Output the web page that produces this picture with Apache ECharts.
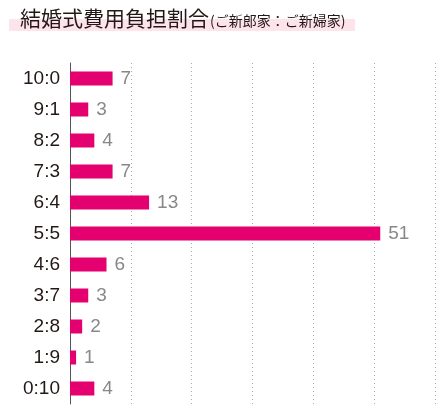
<!DOCTYPE html>
<html><head><meta charset="utf-8">
<script src="https://cdn.jsdelivr.net/npm/echarts@6/dist/echarts.min.js"></script>
<style>html,body{margin:0;padding:0;background:#fff}#c{width:447px;height:411px}</style>
</head><body><div id="c"></div>
<script>
const categories = ['10:0','9:1','8:2','7:3','6:4','5:5','4:6','3:7','2:8','1:9','0:10'];
const values = [7,3,4,7,13,51,6,3,2,1,4];
const titleMain = '結婚式費用負担割合';
const titleSub = '(ご新郎家：ご新婦家)';

const chart = echarts.init(document.getElementById('c'), null, {renderer:'canvas'});
chart.setOption({
  animation:false,
  graphic:[{type:'rect', left:9, top:19, shape:{width:346, height:12}, style:{fill:'#fde3ea'}, z:-1}],
  title:{
    text:'{m|'+titleMain+'}{s|'+titleSub+'}',
    left:15, top:3,
    textStyle:{rich:{
      m:{fontFamily:'Noto Sans CJK JP', fontSize:21, color:'#231815', fontWeight:'normal'},
      s:{fontFamily:'Noto Sans CJK JP', fontSize:14, color:'#231815', fontWeight:'normal', padding:[4,0,0,1]}
    }}
  },
  grid:{left:70, right:12, top:63, bottom:7, containLabel:false},
  xAxis:{type:'value', min:0, max:60, interval:10,
    axisLine:{show:false}, axisTick:{show:false}, axisLabel:{show:false},
    splitLine:{show:true, lineStyle:{color:'#aaa', type:[1,3], width:1}}},
  yAxis:{type:'category', data:categories, inverse:true,
    axisLine:{show:true, lineStyle:{color:'#555', width:1}},
    axisTick:{show:false},
    axisLabel:{fontFamily:'Liberation Sans', fontSize:19, color:'#231815', margin:10}},
  series:[{type:'bar', data:values, barWidth:14,
    itemStyle:{color:'#e4006e'},
    label:{show:true, position:'right', distance:8, fontFamily:'Liberation Sans', fontSize:19, color:'#888'}}]
});
</script></body></html>
